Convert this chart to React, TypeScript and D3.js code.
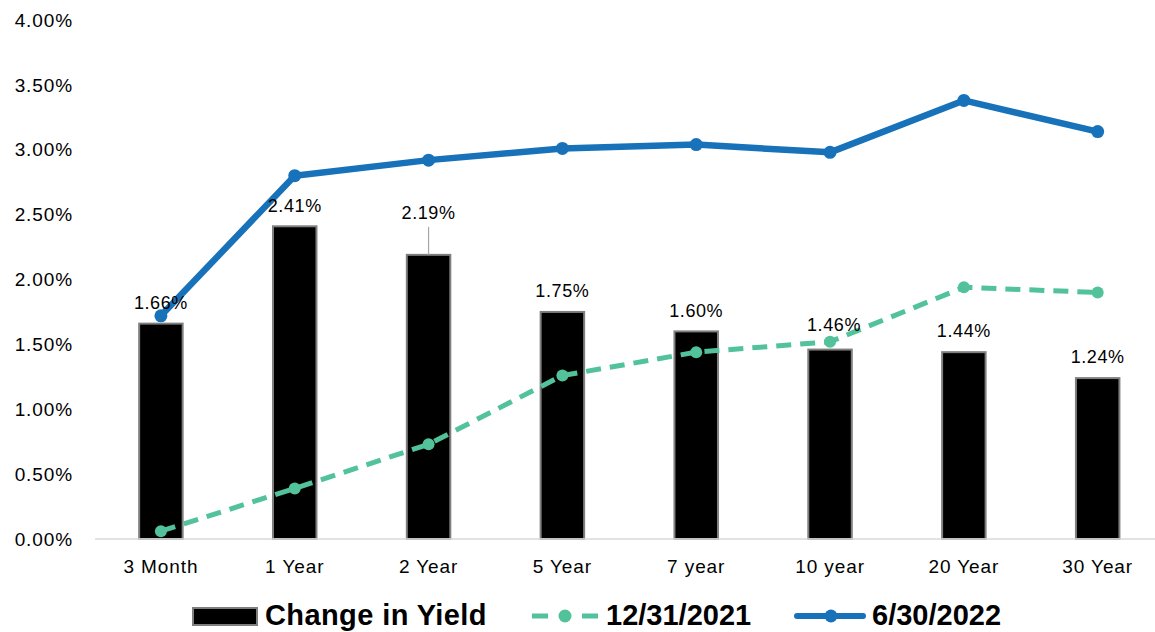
import React from "react";
import * as d3 from "d3";

const categories = ["3 Month", "1 Year", "2 Year", "5 Year", "7 year", "10 year", "20 Year", "30 Year"];
const changeInYield = [1.66, 2.41, 2.19, 1.75, 1.6, 1.46, 1.44, 1.24];
const yield2021 = [0.06, 0.39, 0.73, 1.26, 1.44, 1.52, 1.94, 1.9];
const yield2022 = [1.72, 2.8, 2.92, 3.01, 3.04, 2.98, 3.38, 3.14];
const yTicks = [0, 0.5, 1, 1.5, 2, 2.5, 3, 3.5, 4];
const legendLabels = ["Change in Yield", "12/31/2021", "6/30/2022"];

// label placement tweaks (dx, extra lift) per bar
const labelDx = [0, 0, 0, 0, 0, 4, 0, 0];
const labelLift = [0, 0, 21, 0, 0, 4, 0, 0];

const W = 1155;
const H = 632;
const FONT = "'Liberation Sans', Arial, sans-serif";
const BLUE = "#1872BA";
const GREEN = "#52C29B";

export default function App() {
  const x = d3.scaleBand<string>().domain(categories).range([94, 1164.6]).paddingInner(0.675).paddingOuter(0.3375);
  const y = d3.scaleLinear().domain([0, 4]).range([539, 20]);
  const cx = (c: string) => (x(c) as number) + x.bandwidth() / 2;
  const line = d3
    .line<number>()
    .x((_, i) => cx(categories[i]))
    .y((d) => y(d));

  return (
    <svg
      width={W}
      height={H}
      style={{ position: "absolute", left: 0, top: 0, background: "#fff" }}
      fontFamily={FONT}
    >
      {/* y axis labels */}
      {yTicks.map((t) => (
        <text key={t} x={73} y={y(t)} dy="0.35em" textAnchor="end" fontSize={19} letterSpacing={0.9} fill="#000">
          {d3.format(".2f")(t) + "%"}
        </text>
      ))}
      {/* bars */}
      {changeInYield.map((v, i) => {
        const c = categories[i];
        return (
          <rect
            key={c}
            x={x(c)}
            y={y(v)}
            width={x.bandwidth()}
            height={y(0) - y(v)}
            fill="#000"
            stroke="#7f7f7f"
            strokeWidth={2}
          />
        );
      })}
      {/* x axis line */}
      <line x1={95} x2={W} y1={y(0)} y2={y(0)} stroke="#d9d9d9" strokeWidth={1.5} />
      {/* category labels */}
      {categories.map((c) => (
        <text key={c} x={cx(c)} y={566} dy="0.35em" textAnchor="middle" fontSize={19} letterSpacing={0.9} fill="#000">
          {c}
        </text>
      ))}
      {/* green dashed line */}
      <path d={line(yield2021) || ""} fill="none" stroke={GREEN} strokeWidth={5} strokeDasharray="15 9" />
      {yield2021.map((v, i) => (
        <circle key={i} cx={cx(categories[i])} cy={y(v)} r={6} fill={GREEN} />
      ))}
      {/* blue solid line */}
      <path d={line(yield2022) || ""} fill="none" stroke={BLUE} strokeWidth={6.5} strokeLinejoin="round" />
      {yield2022.map((v, i) => (
        <circle key={i} cx={cx(categories[i])} cy={y(v)} r={6.5} fill={BLUE} />
      ))}
      {/* data labels */}
      {changeInYield.map((v, i) => {
        const c = categories[i];
        const top = y(v);
        const ly = top - 21 - labelLift[i];
        return (
          <g key={c}>
            {labelLift[i] > 10 && (
              <line x1={cx(c)} x2={cx(c)} y1={ly + 14} y2={top} stroke="#a6a6a6" strokeWidth={1.2} />
            )}
            <text x={cx(c) + labelDx[i]} y={ly} dy="0.35em" textAnchor="middle" fontSize={18} letterSpacing={0.6} fill="#000">
              {d3.format(".2f")(v) + "%"}
            </text>
          </g>
        );
      })}
      {/* legend */}
      <g>
        <rect x={193} y={608} width={64} height={17} fill="#000" stroke="#7f7f7f" strokeWidth={2} />
        <text x={265} y={625} fontSize={29} fontWeight="bold" letterSpacing={0.4} fill="#000">{legendLabels[0]}</text>
        <line x1={532} x2={598} y1={616} y2={616} stroke={GREEN} strokeWidth={5} strokeDasharray="16 34" />
        <circle cx={565} cy={616} r={6.5} fill={GREEN} />
        <text x={606} y={625} fontSize={29} fontWeight="bold" fill="#000">{legendLabels[1]}</text>
        <line x1={797} x2={863} y1={616} y2={616} stroke={BLUE} strokeWidth={6} strokeLinecap="round" />
        <circle cx={831} cy={616} r={6.5} fill={BLUE} />
        <text x={872} y={625} fontSize={29} fontWeight="bold" fill="#000">{legendLabels[2]}</text>
      </g>
    </svg>
  );
}
